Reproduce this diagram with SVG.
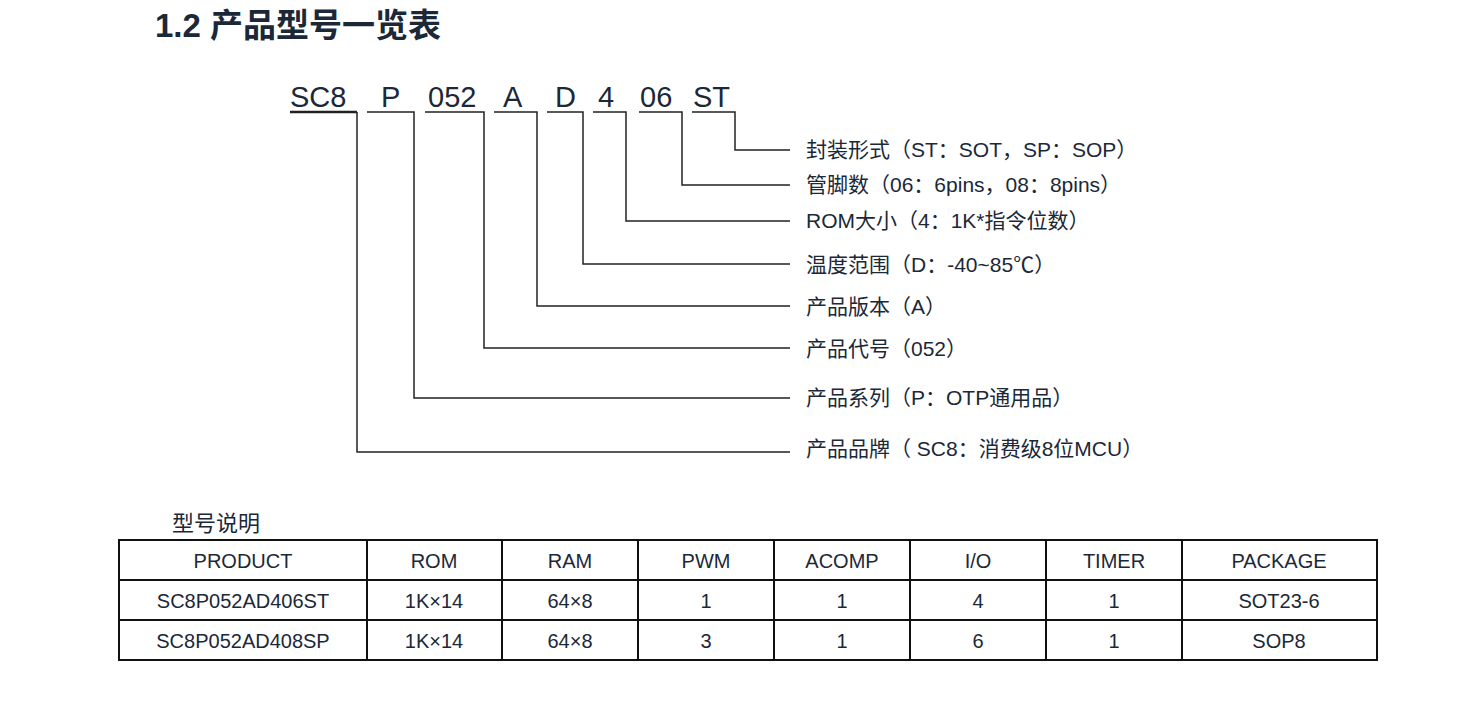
<svg xmlns="http://www.w3.org/2000/svg" width="1476" height="725" viewBox="0 0 1476 725">
<style>
text{font-family:"Liberation Sans","Noto Sans CJK SC",sans-serif;fill:#1b2838}
.code{font-size:29px}
.lab{font-size:21px}
.cell{font-size:20px;text-anchor:middle}
.ln{stroke:#222;stroke-width:1.5;fill:none}
.tb{stroke:#111;stroke-width:2;fill:none}
</style>
<rect width="1476" height="725" fill="#fff"/>
<text x="155" y="37" style="font-size:33px;font-weight:bold">1.2  产品型号一览表</text>
<g id="code">
<text class="code" x="290" y="107">SC8</text>
<text class="code" x="381" y="107">P</text>
<text class="code" x="428" y="107">052</text>
<text class="code" x="503" y="107">A</text>
<text class="code" x="555" y="107">D</text>
<text class="code" x="598" y="107">4</text>
<text class="code" x="640" y="107">06</text>
<text class="code" x="693" y="107">ST</text>
</g>
<g id="connectors">
<polyline class="ln" style="stroke-width:2.5" points="290,112 357,112"/>
<polyline class="ln" points="357,112 357,452 790,452"/>
<polyline class="ln" points="367,112 414,112 414,398 790,398"/>
<polyline class="ln" points="425,112 484,112 484,348 790,348"/>
<polyline class="ln" points="494,112 537,112 537,306 790,306"/>
<polyline class="ln" points="547,112 583,112 583,264 790,264"/>
<polyline class="ln" points="593,112 626,112 626,221 790,221"/>
<polyline class="ln" points="639,112 682,112 682,185 790,185"/>
<polyline class="ln" points="692,112 735,112 735,150 790,150"/>
</g>
<g id="labels">
<text class="lab" x="806" y="157">封装形式（ST：SOT，SP：SOP）</text>
<text class="lab" x="806" y="192">管脚数（06：6pins，08：8pins）</text>
<text class="lab" x="806" y="228">ROM大小（4：1K*指令位数）</text>
<text class="lab" x="806" y="272">温度范围（D：-40~85℃）</text>
<text class="lab" x="806" y="314">产品版本（A）</text>
<text class="lab" x="806" y="356">产品代号（052）</text>
<text class="lab" x="806" y="405">产品系列（P：OTP通用品）</text>
<text class="lab" x="806" y="456">产品品牌（ SC8：消费级8位MCU）</text>
</g>
<text x="172" y="531" style="font-size:22px">型号说明</text>
<g id="table">
<rect class="tb" x="119" y="540" width="1258" height="120"/>
<path class="tb" d="M119 580H1377M119 620H1377M367 540V660M502 540V660M638 540V660M774 540V660M910 540V660M1046 540V660M1182 540V660"/>
<g>
<text class="cell" x="243" y="568">PRODUCT</text><text class="cell" x="434" y="568">ROM</text><text class="cell" x="570" y="568">RAM</text><text class="cell" x="706" y="568">PWM</text><text class="cell" x="842" y="568">ACOMP</text><text class="cell" x="978" y="568">I/O</text><text class="cell" x="1114" y="568">TIMER</text><text class="cell" x="1279" y="568">PACKAGE</text>
<text class="cell" x="243" y="608">SC8P052AD406ST</text><text class="cell" x="434" y="608">1K×14</text><text class="cell" x="570" y="608">64×8</text><text class="cell" x="706" y="608">1</text><text class="cell" x="842" y="608">1</text><text class="cell" x="978" y="608">4</text><text class="cell" x="1114" y="608">1</text><text class="cell" x="1279" y="608">SOT23-6</text>
<text class="cell" x="243" y="648">SC8P052AD408SP</text><text class="cell" x="434" y="648">1K×14</text><text class="cell" x="570" y="648">64×8</text><text class="cell" x="706" y="648">3</text><text class="cell" x="842" y="648">1</text><text class="cell" x="978" y="648">6</text><text class="cell" x="1114" y="648">1</text><text class="cell" x="1279" y="648">SOP8</text>
</g>
</g>
</svg>
